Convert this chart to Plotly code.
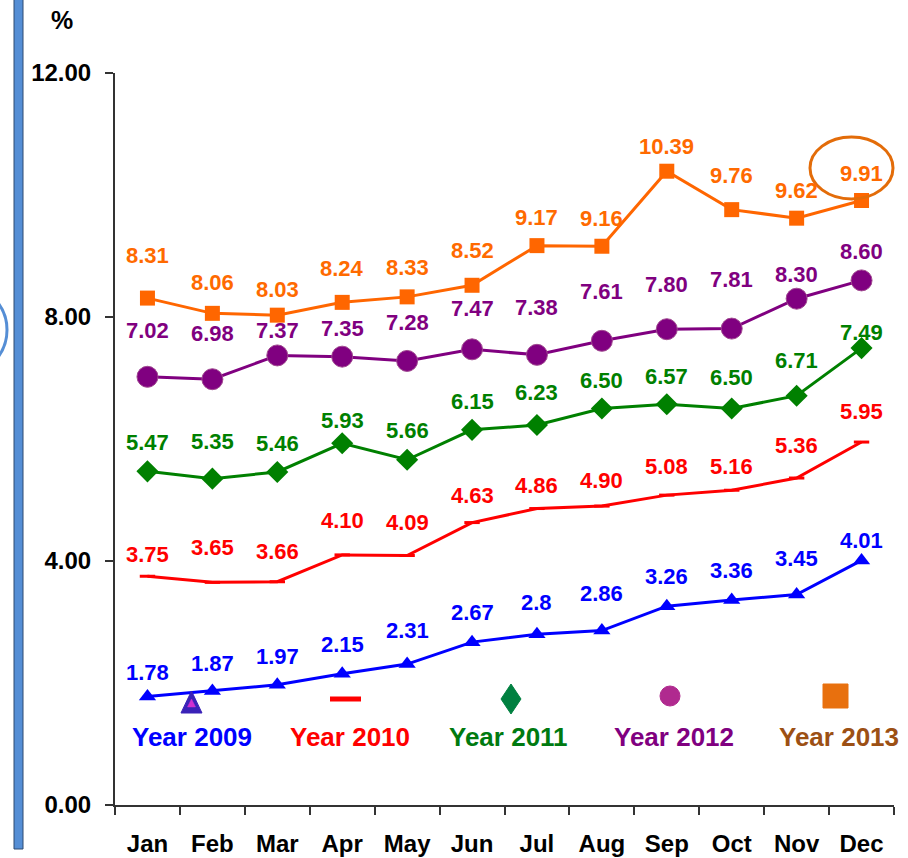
import plotly.graph_objects as go

months = ["Jan", "Feb", "Mar", "Apr", "May", "Jun", "Jul", "Aug", "Sep", "Oct", "Nov", "Dec"]

y2009 = [1.78, 1.87, 1.97, 2.15, 2.31, 2.67, 2.8, 2.86, 3.26, 3.36, 3.45, 4.01]
y2010 = [3.75, 3.65, 3.66, 4.10, 4.09, 4.63, 4.86, 4.90, 5.08, 5.16, 5.36, 5.95]
y2011 = [5.47, 5.35, 5.46, 5.93, 5.66, 6.15, 6.23, 6.50, 6.57, 6.50, 6.71, 7.49]
y2012 = [7.02, 6.98, 7.37, 7.35, 7.28, 7.47, 7.38, 7.61, 7.80, 7.81, 8.30, 8.60]
y2013 = [8.31, 8.06, 8.03, 8.24, 8.33, 8.52, 9.17, 9.16, 10.39, 9.76, 9.62, 9.91]

series_names = ["Year 2009", "Year 2010", "Year 2011", "Year 2012", "Year 2013"]
y_ticks = [0, 4, 8, 12]

# label lift above each point (pixels) - layout only
lift = {
    "Year 2009": [24, 27, 28, 29, 34, 30, 32, 37, 30, 30, 36, 20],
    "Year 2010": [22, 35, 30, 34, 33, 27, 23, 26, 29, 24, 33, 31],
    "Year 2011": [29, 37, 28, 23, 29, 28, 32, 28, 28, 31, 35, 16],
    "Year 2012": [46, 46, 25, 28, 38, 41, 47, 49, 45, 49, 24, 29],
    "Year 2013": [43, 31, 26, 34, 29, 35, 28, 28, 25, 34, 28, 27],
}

FONT = "Liberation Sans, Arial, sans-serif"
W, H = 908, 858
L, R, T, B = 115, 14, 73, 53
PW, PH = W - L - R, H - T - B


def px(x):
    return (x - L) / PW


def py(y):
    return (H - B - y) / PH


styles = {
    "Year 2009": dict(line="#0000ff", text="#0000ff",
                      marker=dict(symbol="triangle-up", size=15, color="#0000ff")),
    "Year 2010": dict(line="#ff0000", text="#ff0000",
                      marker=dict(symbol="line-ew", size=11, color="#ff0000",
                                  line=dict(color="#ff0000", width=3))),
    "Year 2011": dict(line="#008000", text="#008000",
                      marker=dict(symbol="diamond", size=17, color="#008000")),
    "Year 2012": dict(line="#800080", text="#800080",
                      marker=dict(symbol="circle", size=21, color="#800080",
                                  line=dict(color="#a04a90", width=1))),
    "Year 2013": dict(line="#ff6600", text="#ff6a00",
                      marker=dict(symbol="square", size=15, color="#ff6600")),
}

data = dict(zip(series_names, [y2009, y2010, y2011, y2012, y2013]))

fig = go.Figure()
annotations = []
for name in series_names:
    vals = data[name]
    st = styles[name]
    fig.add_trace(go.Scatter(
        x=months, y=vals, mode="lines+markers", name=name,
        line=dict(color=st["line"], width=3),
        marker=st["marker"], showlegend=False, hoverinfo="x+y",
    ))
    for m, v, s in zip(months, vals, lift[name]):
        txt = f"{v:g}" if name == "Year 2009" else f"{v:.2f}"
        annotations.append(dict(
            x=m, y=v, xref="x", yref="y", text=txt, showarrow=False,
            yshift=s, font=dict(family=FONT, size=22, color=st["text"], weight="bold"),
        ))

# custom legend texts
legend_pos = [192, 350, 509, 674, 839]
legend_cols = ["#0000ff", "#ff0000", "#007a10", "#800080", "#9c5014"]
for name, lx, c in zip(series_names, legend_pos, legend_cols):
    annotations.append(dict(
        x=px(lx), y=py(737), xref="paper", yref="paper", text=name, showarrow=False,
        xanchor="center", yanchor="middle",
        font=dict(family=FONT, size=26, color=c, weight="bold"),
    ))

annotations.append(dict(
    x=px(62), y=py(20), xref="paper", yref="paper", text="%", showarrow=False,
    xanchor="center", yanchor="middle",
    font=dict(family=FONT, size=25, color="#000000", weight="bold"),
))


def path_px(points):
    s = "M " + " L ".join(f"{px(a):.5f},{py(b):.5f}" for a, b in points) + " Z"
    return s


shapes = [
    # left blue bar
    dict(type="rect", xref="paper", yref="paper", x0=px(14), x1=px(23), y0=py(849), y1=py(-5),
         fillcolor="#558ed5", line=dict(color="#2f4a70", width=1), layer="above"),
    # partial circle at left edge
    dict(type="circle", xref="paper", yref="paper", x0=px(-83), x1=px(7), y0=py(375), y1=py(285),
         line=dict(color="#558ed5", width=3)),
    # ellipse around last value
    dict(type="circle", xref="paper", yref="paper", x0=px(810), x1=px(893), y0=py(199), y1=py(137),
         line=dict(color="#e36c09", width=3)),
    # legend markers
    dict(type="path", xref="paper", yref="paper",
         path=path_px([(181, 713), (202, 713), (191.5, 691)]),
         fillcolor="#3a22b8", line=dict(color="#3a22b8", width=1)),
    dict(type="path", xref="paper", yref="paper",
         path=path_px([(187.5, 707), (195.5, 707), (191.5, 699)]),
         fillcolor="#d030d0", line=dict(color="#d030d0", width=0.5)),
    dict(type="line", xref="paper", yref="paper", x0=px(330), x1=px(361), y0=py(699), y1=py(699),
         line=dict(color="#ff0000", width=5)),
    dict(type="path", xref="paper", yref="paper",
         path=path_px([(511, 684), (521, 699), (511, 714), (501, 699)]),
         fillcolor="#008040", line=dict(color="#008040", width=1)),
    dict(type="circle", xref="paper", yref="paper", x0=px(660), x1=px(680), y0=py(706), y1=py(686),
         fillcolor="#b02a8f", line=dict(color="#b02a8f", width=1)),
    dict(type="rect", xref="paper", yref="paper", x0=px(823), x1=px(848), y0=py(708), y1=py(684),
         fillcolor="#e8700e", line=dict(color="#e8700e", width=1)),
]

fig.update_layout(
    width=W, height=H,
    margin=dict(l=L, r=R, t=T, b=B, autoexpand=False),
    paper_bgcolor="white", plot_bgcolor="white",
    font=dict(family=FONT),
    annotations=annotations, shapes=shapes,
    xaxis=dict(
        type="category", categoryorder="array", categoryarray=months,
        range=[-0.5, 11.5], showgrid=False, zeroline=False,
        showline=True, linecolor="#333333", linewidth=2,
        ticks="outside", ticklen=8, tickwidth=2, tickcolor="#333333",
        tickson="boundaries", ticklabelstandoff=16,
        tickfont=dict(family=FONT, size=24, color="#000000", weight="bold"),
    ),
    yaxis=dict(
        range=[0, 12], tickvals=y_ticks, tickformat=".2f",
        showgrid=False, zeroline=False,
        showline=True, linecolor="#333333", linewidth=2,
        ticks="outside", ticklen=8, tickwidth=2, tickcolor="#333333",
        ticklabelstandoff=9,
        tickfont=dict(family=FONT, size=24, color="#000000", weight="bold"),
    ),
)

fig.write_html(
    "out.html",
    config={"displayModeBar": False},
    post_script="document.body.style.margin='0';document.body.style.overflow='hidden';",
)
